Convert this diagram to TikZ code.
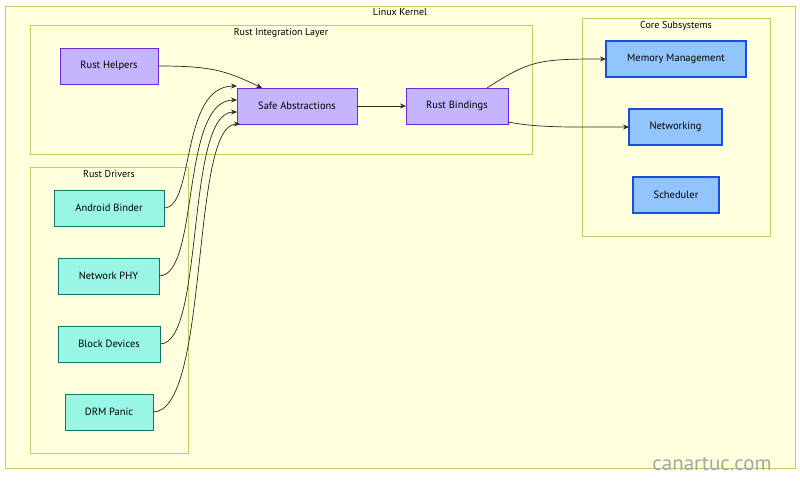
\documentclass[tikz,border=0pt]{standalone}
\usepackage{fontspec}
\setmainfont{PT Sans}
\usetikzlibrary{arrows.meta}
\definecolor{kbg}{HTML}{FFFFDE}
\definecolor{kbd}{HTML}{C8C864}
\definecolor{pf}{HTML}{C4B5FD}\definecolor{pd}{HTML}{6D28D9}
\definecolor{gf}{HTML}{99F6E4}\definecolor{gd}{HTML}{0F766E}
\definecolor{bf}{HTML}{93C5FD}\definecolor{bd}{HTML}{1D4ED8}
\begin{document}
\begin{tikzpicture}[x=1pt,y=-1pt,font=\fontsize{10.5}{12}\selectfont,
 grp/.style={draw=kbd,fill=kbg,line width=0.8pt},
 gt/.style={anchor=north,font=\fontsize{10}{12}\selectfont},
 pur/.style={draw=pd,fill=pf,line width=1pt,rectangle},
 grn/.style={draw=gd,fill=gf,line width=1pt,rectangle},
 blu/.style={draw=bd,fill=bf,line width=1.5pt,rectangle},
 ar/.style={-{Stealth[length=6pt,width=5pt]},line width=0.7pt,black!85}]
\useasboundingbox (0,0) rectangle (800,483);
\fill[white] (0,0) rectangle (800,483);
\draw[grp] (5,6) rectangle (795,468);
\node[gt] (t0) at (400,5) {Linux Kernel};
\draw[grp] (30,25) rectangle (532,154);
\node[gt] (t1) at (281,25) {Rust Integration Layer};
\draw[grp] (30,167) rectangle (188,453);
\node[gt] (t2) at (109,167) {Rust Drivers};
\draw[grp] (582,18) rectangle (770,236);
\node[gt] (t3) at (676,18) {Core Subsystems};
\path[pur] (60,48) rectangle (158,84); \node (rh) at (109,66) {Rust Helpers};
\path[pur] (237,88) rectangle (357,124); \node (sa) at (297,106) {Safe Abstractions};
\path[pur] (406,88) rectangle (508,124); \node (rb) at (457,106) {Rust Bindings};
\path[grn] (54,190) rectangle (164,226); \node (ab) at (109,208) {Android Binder};
\path[grn] (58,258) rectangle (159,294); \node (np) at (108.5,276) {Network PHY};
\path[grn] (58,326) rectangle (160,362); \node (bd) at (109,344) {Block Devices};
\path[grn] (65,394) rectangle (153,430); \node (dp) at (109,412) {DRM Panic};
\path[blu] (606,41) rectangle (746,77); \node (mm) at (676,59) {Memory Management};
\path[blu] (629,109) rectangle (722,145); \node (nw) at (675.5,127) {Networking};
\path[blu] (633,177) rectangle (719,213); \node (sc) at (676,195) {Scheduler};
\coordinate (rhR) at (158,66); \coordinate (saT) at (262,88);
\draw[ar] (rhR) .. controls (210,66) and (225,70) .. (saT);
\draw[ar] (164,208) .. controls (195,208) and (180,86) .. (237,86);
\draw[ar] (159,276) .. controls (200,276) and (180,100) .. (237,100);
\draw[ar] (160,344) .. controls (205,344) and (185,112) .. (237,112);
\draw[ar] (153,412) .. controls (210,412) and (190,124) .. (240,124);
\draw[ar] (357,106) -- (406,106);
\draw[ar] (487,88) .. controls (530,60) and (540,59) .. (606,59);
\draw[ar] (508,122) .. controls (540,128) and (570,127) .. (629,127);
\node[text=black!35,font=\fontsize{21}{24}\selectfont] (wm) at (712,464) {canartuc.com};
\end{tikzpicture}
\end{document}
